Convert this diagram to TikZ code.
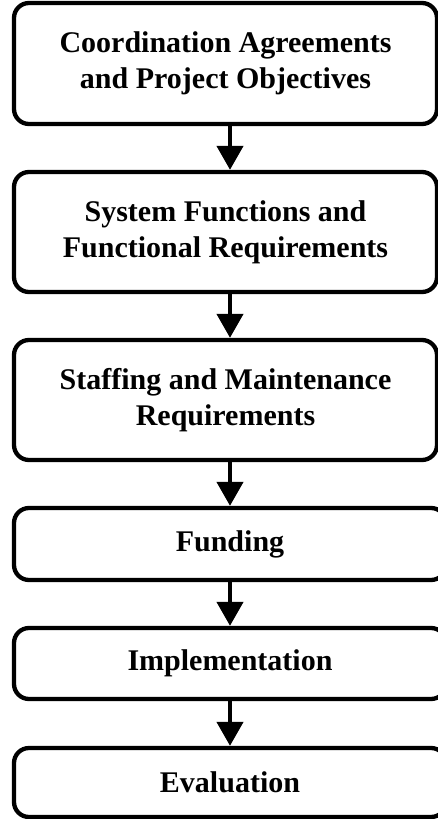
\documentclass[tikz,border=0pt]{standalone}
\usepackage{fontspec}
\setmainfont{Liberation Serif}
\usepackage{tikz}
\usetikzlibrary{arrows.meta}

\begin{document}
\begin{tikzpicture}[x=1pt,y=1pt]
    % Define styles
    \tikzset{
        phase/.style={rectangle, rounded corners=15pt, draw, line width=4.3pt,
            minimum width=423pt, align=center,
            font=\fontsize{30}{36}\selectfont\bfseries},
        arrow/.style={-{Triangle[length=24pt,width=26pt]}, line width=4.3pt}
    }
    \useasboundingbox (0,0) rectangle (438,-819);

    % Nodes
    \node[phase, minimum height=121pt] (objectives) at (225.5,-63.5) {Coordination Agreements\\and Project Objectives};
    \node[phase, minimum height=120pt] (functions) at (225.5,-232) {System Functions and\\Functional Requirements};
    \node[phase, minimum height=120pt] (staffing) at (225.5,-400) {Staffing and Maintenance\\Requirements};
    \node[phase, minimum height=72pt, minimum width=432pt] (funding) at (230,-544) {Funding};
    \node[phase, minimum height=71pt, minimum width=432pt] (implementation) at (230,-663.5) {Implementation};
    \node[phase, minimum height=69pt, minimum width=432pt] (evaluation) at (230,-782.5) {Evaluation};

    % Arrows
    \draw[arrow] ([xshift=4.5pt]objectives.south) -- ([xshift=4.5pt]functions.north);
    \draw[arrow] ([xshift=4.5pt]functions.south) -- ([xshift=4.5pt]staffing.north);
    \draw[arrow] ([xshift=4.5pt]staffing.south) -- (funding.north);
    \draw[arrow] (funding.south) -- (implementation.north);
    \draw[arrow] (implementation.south) -- (evaluation.north);
\end{tikzpicture}
\end{document}
